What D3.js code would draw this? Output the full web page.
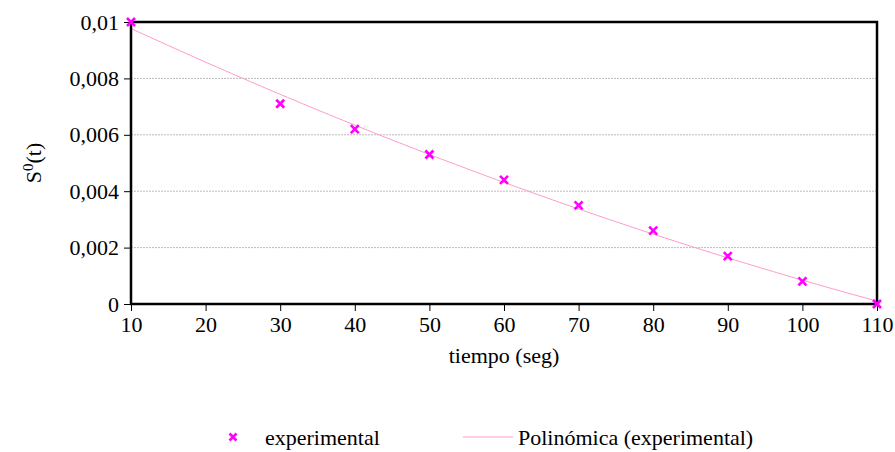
<!DOCTYPE html>
<html><head><meta charset="utf-8">
<script src="https://cdn.jsdelivr.net/npm/d3@7"></script>
<style>body{margin:0;background:#fff}svg{display:block}svg text{font-family:"Liberation Serif",serif !important}</style>
</head><body><svg id="c" width="895" height="452" font-family="Liberation Serif, Times New Roman, serif"></svg>
<script>
const tiempo = [10, 30, 40, 50, 60, 70, 80, 90, 100, 110];
const experimental = [0.01, 0.0071, 0.0062, 0.0053, 0.0044, 0.0035, 0.0026, 0.0017, 0.0008, 0];
const xTicks = [10, 20, 30, 40, 50, 60, 70, 80, 90, 100, 110];
const yTicks = [0, 0.002, 0.004, 0.006, 0.008, 0.01];
const yLabels = ["0", "0,002", "0,004", "0,006", "0,008", "0,01"];

const FONT = "'Liberation Serif', 'Times New Roman', serif";
const svg = d3.select("#c");
const L = 131, R = 877, T = 22, B = 304;
const x = d3.scaleLinear().domain([10, 110]).range([L, R]);
const y = d3.scaleLinear().domain([0, 0.01]).range([B, T]);

function styleText(sel, size) {
  sel.style("font-family", FONT, "important").style("font-size", size + "px", "important").style("fill", "#000");
  return sel;
}

// grid
svg.append("g").selectAll("line").data(yTicks.filter(d => d > 0 && d < 0.01)).join("line")
  .attr("x1", L).attr("x2", R).attr("y1", d => y(d)).attr("y2", d => y(d))
  .attr("stroke", "#bbb").attr("stroke-width", 1).attr("stroke-dasharray", "2,1");

// quadratic least-squares trendline from data
function polyfit2(xs, ys) {
  let n = xs.length, S = [0,0,0,0,0], Ty = [0,0,0];
  for (let i = 0; i < n; i++) {
    let p = 1;
    for (let k = 0; k < 5; k++) { S[k] += p; if (k < 3) Ty[k] += p * ys[i]; p *= xs[i]; }
  }
  const A = [[S[0],S[1],S[2],Ty[0]],[S[1],S[2],S[3],Ty[1]],[S[2],S[3],S[4],Ty[2]]];
  for (let i = 0; i < 3; i++) {
    for (let j = i + 1; j < 3; j++) {
      const f = A[j][i] / A[i][i];
      for (let k = i; k < 4; k++) A[j][k] -= f * A[i][k];
    }
  }
  const c = [0,0,0];
  for (let i = 2; i >= 0; i--) {
    let s = A[i][3];
    for (let k = i + 1; k < 3; k++) s -= A[i][k] * c[k];
    c[i] = s / A[i][i];
  }
  return c;
}
const coef = polyfit2(tiempo, experimental);
const fx = d3.range(10, 110.01, 0.5);
svg.append("path").datum(fx)
  .attr("d", d3.line().x(d => x(d)).y(d => y(coef[0] + coef[1]*d + coef[2]*d*d)))
  .attr("fill", "none").attr("stroke", "#ff99cc").attr("stroke-width", 1);

// axes
const xAxis = svg.append("g").attr("transform", `translate(0,${B})`)
  .call(d3.axisBottom(x).tickValues(xTicks).tickSize(7).tickPadding(5).tickFormat(d3.format("d")));
const yAxis = svg.append("g").attr("transform", `translate(${L},0)`)
  .call(d3.axisLeft(y).tickValues(yTicks).tickSize(7).tickPadding(5).tickFormat((d, i) => yLabels[i]));
[xAxis, yAxis].forEach(g => {
  g.attr("font-family", FONT).attr("font-size", 22);
  g.select(".domain").remove();
  g.selectAll("line").attr("stroke", "#000");
  styleText(g.selectAll("text"), 22);
});

// frame
svg.append("rect").attr("x", L).attr("y", T).attr("width", R - L).attr("height", B - T)
  .attr("fill", "none").attr("stroke", "#000").attr("stroke-width", 2.5);

// markers
function xmark(g, cx, cy, s) {
  g.append("path").attr("d", `M${cx-s},${cy-s}L${cx+s},${cy+s}M${cx-s},${cy+s}L${cx+s},${cy-s}`)
    .attr("stroke", "#ff00ff").attr("stroke-width", 2.6).attr("fill", "none");
}
const mg = svg.append("g");
tiempo.forEach((t, i) => xmark(mg, x(t), y(experimental[i]), 4));

// titles
styleText(svg.append("text").attr("x", 504).attr("y", 363).attr("text-anchor", "middle"), 22).text("tiempo (seg)");
const yt = styleText(svg.append("text").attr("transform", "translate(41,163) rotate(-90)").attr("text-anchor", "middle"), 22);
yt.append("tspan").text("S");
yt.append("tspan").attr("dy", -8).style("font-size", "15px").text("0");
yt.append("tspan").attr("dy", 8).text("(t)");

// legend
xmark(svg, 233, 437, 3.5);
styleText(svg.append("text").attr("x", 265).attr("y", 445), 22).text("experimental");
svg.append("line").attr("x1", 463).attr("x2", 513).attr("y1", 437).attr("y2", 437).attr("stroke", "#ff99cc").attr("stroke-width", 1);
styleText(svg.append("text").attr("x", 518).attr("y", 445), 22).text("Polinómica (experimental)");
</script></body></html>
